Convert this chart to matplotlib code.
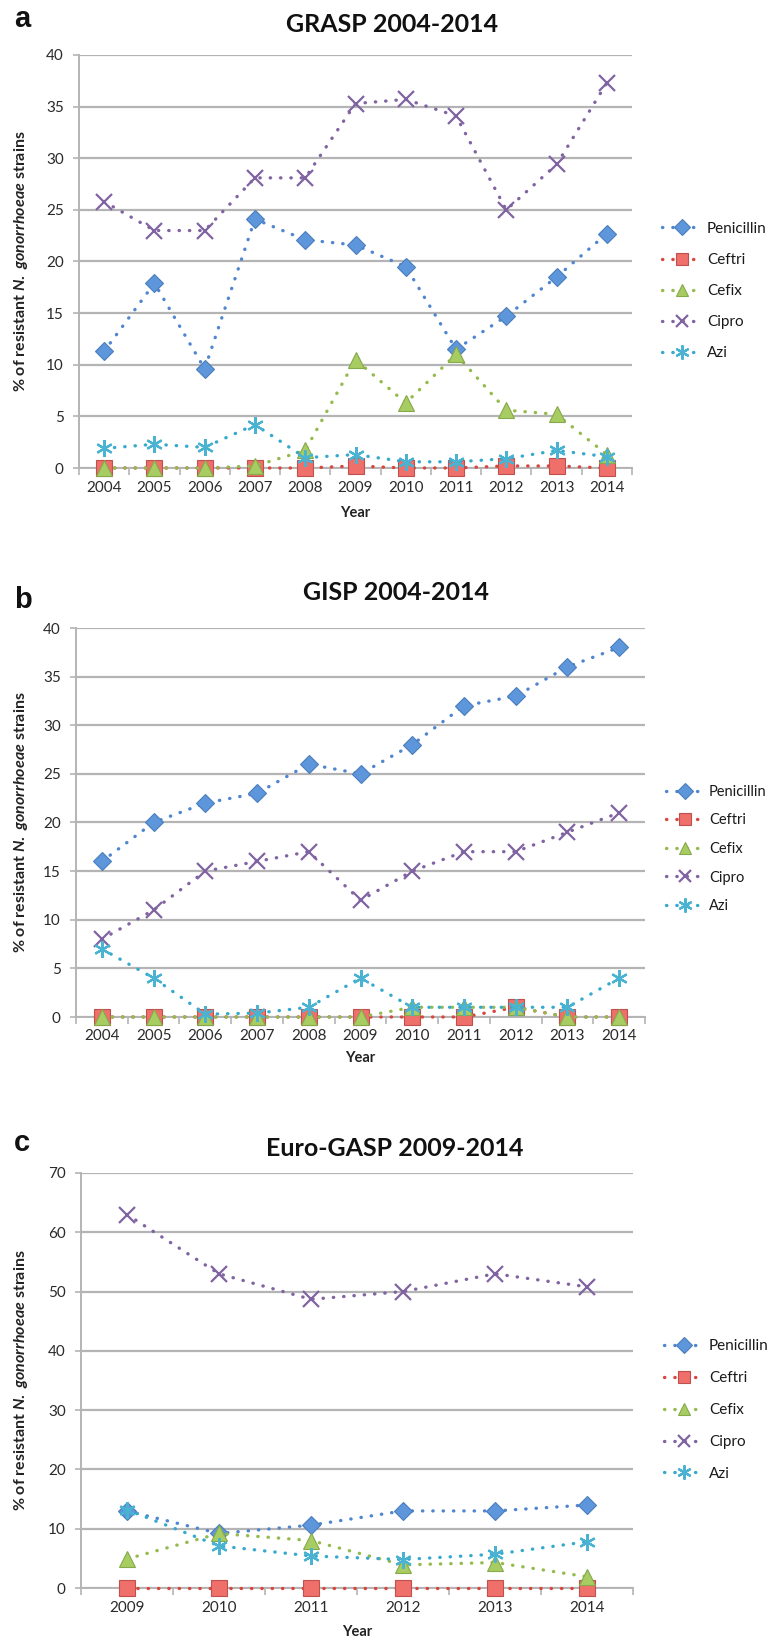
import matplotlib
matplotlib.use("Agg")
import matplotlib.pyplot as plt
from matplotlib.ticker import MultipleLocator, FixedLocator

plt.rcParams['font.family'] = ['Lato', 'DejaVu Sans']
plt.rcParams['mathtext.fontset'] = 'custom'
plt.rcParams['mathtext.it'] = 'Lato:italic:bold'
plt.rcParams['mathtext.rm'] = 'Lato:bold'

# ---------------- data ----------------
drugs = ["Penicillin", "Ceftri", "Cefix", "Cipro", "Azi"]

years_a = ["2004", "2005", "2006", "2007", "2008", "2009", "2010", "2011", "2012", "2013", "2014"]
a_pen = [11.3, 17.9, 9.6, 24.1, 22.1, 21.6, 19.5, 11.5, 14.7, 18.5, 22.7]
a_ceftri = [0, 0, 0, 0, 0, 0.2, 0, 0, 0.2, 0.2, 0]
a_cefix = [0, 0, 0, 0.2, 1.7, 10.5, 6.3, 11.0, 5.6, 5.2, 1.3]
a_cipro = [25.8, 23.0, 23.0, 28.1, 28.1, 35.3, 35.7, 34.1, 25.0, 29.4, 37.3]
a_azi = [1.9, 2.3, 2.0, 4.2, 1.0, 1.3, 0.6, 0.6, 0.9, 1.7, 1.1]

years_b = ["2004", "2005", "2006", "2007", "2008", "2009", "2010", "2011", "2012", "2013", "2014"]
b_pen = [16, 20, 22, 23, 26, 25, 28, 32, 33, 36, 38]
b_ceftri = [0, 0, 0, 0, 0, 0, 0, 0, 1, 0, 0]
b_cefix = [0, 0, 0, 0, 0, 0, 1, 1, 1, 0, 0]
b_cipro = [8, 11, 15, 16, 17, 12, 15, 17, 17, 19, 21]
b_azi = [7, 4, 0.3, 0.4, 1, 4, 1, 1, 1, 1, 4]

years_c = ["2009", "2010", "2011", "2012", "2013", "2014"]
c_pen = [13, 9.2, 10.6, 13, 13, 14]
c_ceftri = [0, 0, 0, 0, 0, 0]
c_cefix = [4.9, 9.2, 8.0, 3.9, 4.3, 1.9]
c_cipro = [63, 53, 48.7, 50, 53, 50.8]
c_azi = [13.2, 7.1, 5.4, 4.8, 5.7, 7.8]

titles = ["GRASP 2004-2014", "GISP 2004-2014", "Euro-GASP 2009-2014"]
letters = ["a", "b", "c"]

# ---------------- styles ----------------
line_colors = ["#4f86cf", "#d9453f", "#94bb4e", "#8064a2", "#37a9cc"]
face_colors = ["#5e96dc", "#ef6f6a", "#a6cc62", "#8064a2", "#4bb3d2"]
edge_colors = ["#4a7ebb", "#c0504d", "#86a94a", "#7a5e9e", "#3aa0c0"]
markers = ["D", "s", "^", "x", (6, 2, 0)]
msizes = [9, 11, 11, 11, 12]

W, H = 768, 1642
fig = plt.figure(figsize=(W / 100, H / 100), dpi=100)

def fx(px):
    return px / W

def fy(py):
    return 1 - py / H

panels = [
    dict(box=(79, 55, 632, 468), years=years_a, series=[a_pen, a_ceftri, a_cefix, a_cipro, a_azi],
         ymax=40, ystep=5, title_xy=(392, 25), letter_y=19, year_y=513, leg_y=291, leg_x=662,
         leg_sp=1.12, leg_fs=11),
    dict(box=(76, 628, 645, 1017), years=years_b, series=[b_pen, b_ceftri, b_cefix, b_cipro, b_azi],
         ymax=40, ystep=5, title_xy=(396, 592), letter_y=600, year_y=1058, leg_y=849, leg_x=666,
         leg_sp=1.0, leg_fs=10.5),
    dict(box=(81, 1173, 633, 1588), years=years_c, series=[c_pen, c_ceftri, c_cefix, c_cipro, c_azi],
         ymax=70, ystep=10, title_xy=(395, 1148), letter_y=1143, year_y=1632, leg_y=1410, leg_x=664,
         leg_sp=1.17, leg_fs=11),
]

grid_col = "#b4b4b4"
for i, p in enumerate(panels):
    x0, y0, x1, y1 = p["box"]
    ax = fig.add_axes([fx(x0), fy(y1), (x1 - x0) / W, (y1 - y0) / H])
    n = len(p["years"])
    xs = list(range(n))
    for k, (vals, name) in enumerate(zip(p["series"], drugs)):
        mk = markers[k]
        lw_m = 1.6 if k >= 3 else 0.8
        ax.plot(xs, vals, linestyle=(0, (0.1, 3.0)), dash_capstyle='round',
                lw=2.4, color=line_colors[k], marker=mk, markersize=msizes[k],
                markerfacecolor=face_colors[k],
                markeredgecolor=(edge_colors[k] if k < 3 else face_colors[k]),
                markeredgewidth=lw_m, label=name, zorder=3 + k, clip_on=False)
    ax.set_xlim(-0.5, n - 0.5)
    ax.set_ylim(0, p["ymax"])
    ax.yaxis.set_major_locator(MultipleLocator(p["ystep"]))
    ax.set_xticks(xs)
    ax.set_xticklabels(p["years"])
    ax.xaxis.set_minor_locator(FixedLocator([v - 0.5 for v in range(n + 1)]))
    ax.tick_params(axis='x', which='major', length=0, pad=9, labelsize=11, labelcolor="#2a2a2a")
    ax.tick_params(axis='x', which='minor', length=5, width=1.2, color=grid_col, direction='out')
    ax.tick_params(axis='y', which='major', length=4, width=1.2, color=grid_col, pad=7,
                   labelsize=11, labelcolor="#2a2a2a")
    ax.grid(axis='y', color=grid_col, lw=1.6, zorder=0)
    ax.set_axisbelow(True)
    for s in ["top", "right"]:
        ax.spines[s].set_visible(False)
    for s in ["left", "bottom"]:
        ax.spines[s].set_color(grid_col)
        ax.spines[s].set_linewidth(1.4)

    leg = ax.legend(loc='center left', bbox_to_anchor=(fx(p["leg_x"]), fy(p["leg_y"])),
                    bbox_transform=fig.transFigure, frameon=False, fontsize=p["leg_fs"],
                    handlelength=2.6, handletextpad=0.35, labelspacing=p["leg_sp"],
                    borderpad=0, borderaxespad=0, numpoints=1, markerscale=0.85)
    for t in leg.get_texts():
        t.set_color("#1a1a1a")

    fig.text(fx(p["title_xy"][0]), fy(p["title_xy"][1]), titles[i], ha='center', va='center',
             fontsize=18, fontweight='bold', color="#111111")
    fig.text(fx(14), fy(p["letter_y"]), letters[i], ha='left', va='center',
             fontsize=21, fontweight='bold', family=['Liberation Sans', 'DejaVu Sans'], color="#111111")
    fig.text(fx((x0 + x1) / 2), fy(p["year_y"]), "Year", ha='center', va='center',
             fontsize=10.5, fontweight='bold', color="#222222")
    fig.text(fx(21), fy((y0 + y1) / 2), r"% of resistant $N.\ gonorrhoeae$ strains",
             rotation=90, ha='center', va='center', fontsize=11.5, fontweight='bold', color="#222222")

fig.savefig("out.png", dpi=100)
